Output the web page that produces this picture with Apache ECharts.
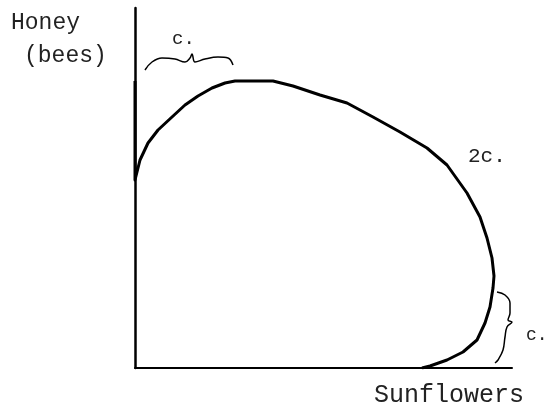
<!DOCTYPE html>
<html>
<head>
<meta charset="utf-8">
<script src="https://cdn.jsdelivr.net/npm/echarts@6/dist/echarts.min.js"></script>
<style>
  html, body { margin: 0; padding: 0; background: #fff; }
  #chart { width: 546px; height: 411px; }
</style>
</head>
<body>
<div id="chart"></div>
<script>
// frontier curve (sunflowers, honey) in arbitrary units
var frontierX = [0, 0, 5, 13, 23, 37, 50, 63, 77, 90, 100, 138, 158, 185, 212, 238, 265, 292, 312, 332, 345, 352, 357, 359, 358, 355, 350, 342, 328, 312, 295, 287]
var frontierY = [287, 188, 208, 225, 238, 251, 263, 272, 280, 285, 287, 287, 282, 273, 265, 251, 236, 220, 203, 175, 151, 130, 110, 92, 80, 61, 45, 28, 16, 8, 2, 0]

// braces marking the "c." stretches
var braceTopX = [10, 17, 27, 40, 50, 55, 57, 60, 70, 83, 93, 98]
var braceTopY = [298, 306, 310, 309, 306, 310, 314, 306, 309, 311, 310, 303]
var braceRightX = [362, 370, 375, 375, 373, 377, 372, 370, 368, 363, 360]
var braceRightY = [76, 73, 65, 55, 48, 46, 41, 31, 18, 8, 5]

var chart = echarts.init(document.getElementById('chart'))
var font = 'Liberation Mono'

function pairs(xs, ys) {
  return xs.map(function (x, i) { return [x, ys[i]] })
}

var option = {
  backgroundColor: '#fff',
  animation: false,
  grid: { left: 135, right: 34, top: 8, bottom: 43 },
  xAxis: {
    type: 'value', min: 0, max: 377,
    axisLine: { show: true, onZero: false, lineStyle: { color: '#000', width: 2 } },
    axisTick: { show: false }, axisLabel: { show: false }, splitLine: { show: false }
  },
  yAxis: {
    type: 'value', min: 0, max: 360,
    axisLine: { show: true, onZero: false, lineStyle: { color: '#000', width: 2.5 } },
    axisTick: { show: false }, axisLabel: { show: false }, splitLine: { show: false }
  },
  series: [{
    type: 'line',
    data: pairs(frontierX, frontierY),
    smooth: false,
    symbol: 'none',
    lineStyle: { color: '#000', width: 3, join: 'round' }
  }, {
    type: 'line',
    data: pairs(braceTopX, braceTopY),
    smooth: 0.4,
    symbol: 'none',
    lineStyle: { color: '#000', width: 1.5 }
  }, {
    type: 'line',
    data: pairs(braceRightX, braceRightY),
    smooth: 0.4,
    symbol: 'none',
    lineStyle: { color: '#000', width: 1.5 }
  }],
  graphic: [
    { type: 'text', left: 11, top: 11, style: { text: 'Honey', font: '23px ' + font, fill: '#222' } },
    { type: 'text', left: 24, top: 44, style: { text: '(bees)', font: '23px ' + font, fill: '#222' } },
    { type: 'text', left: 374, top: 383, style: { text: 'Sunflowers', font: '25px ' + font, fill: '#222' } },
    { type: 'text', left: 172, top: 29, style: { text: 'c.', font: '19px ' + font, fill: '#222' } },
    { type: 'text', left: 468, top: 146, style: { text: '2c.', font: '21px ' + font, fill: '#222' } },
    { type: 'text', left: 526, top: 326, style: { text: 'c.', font: '18px ' + font, fill: '#222' } }
  ]
}
chart.setOption(option)
</script>
</body>
</html>
